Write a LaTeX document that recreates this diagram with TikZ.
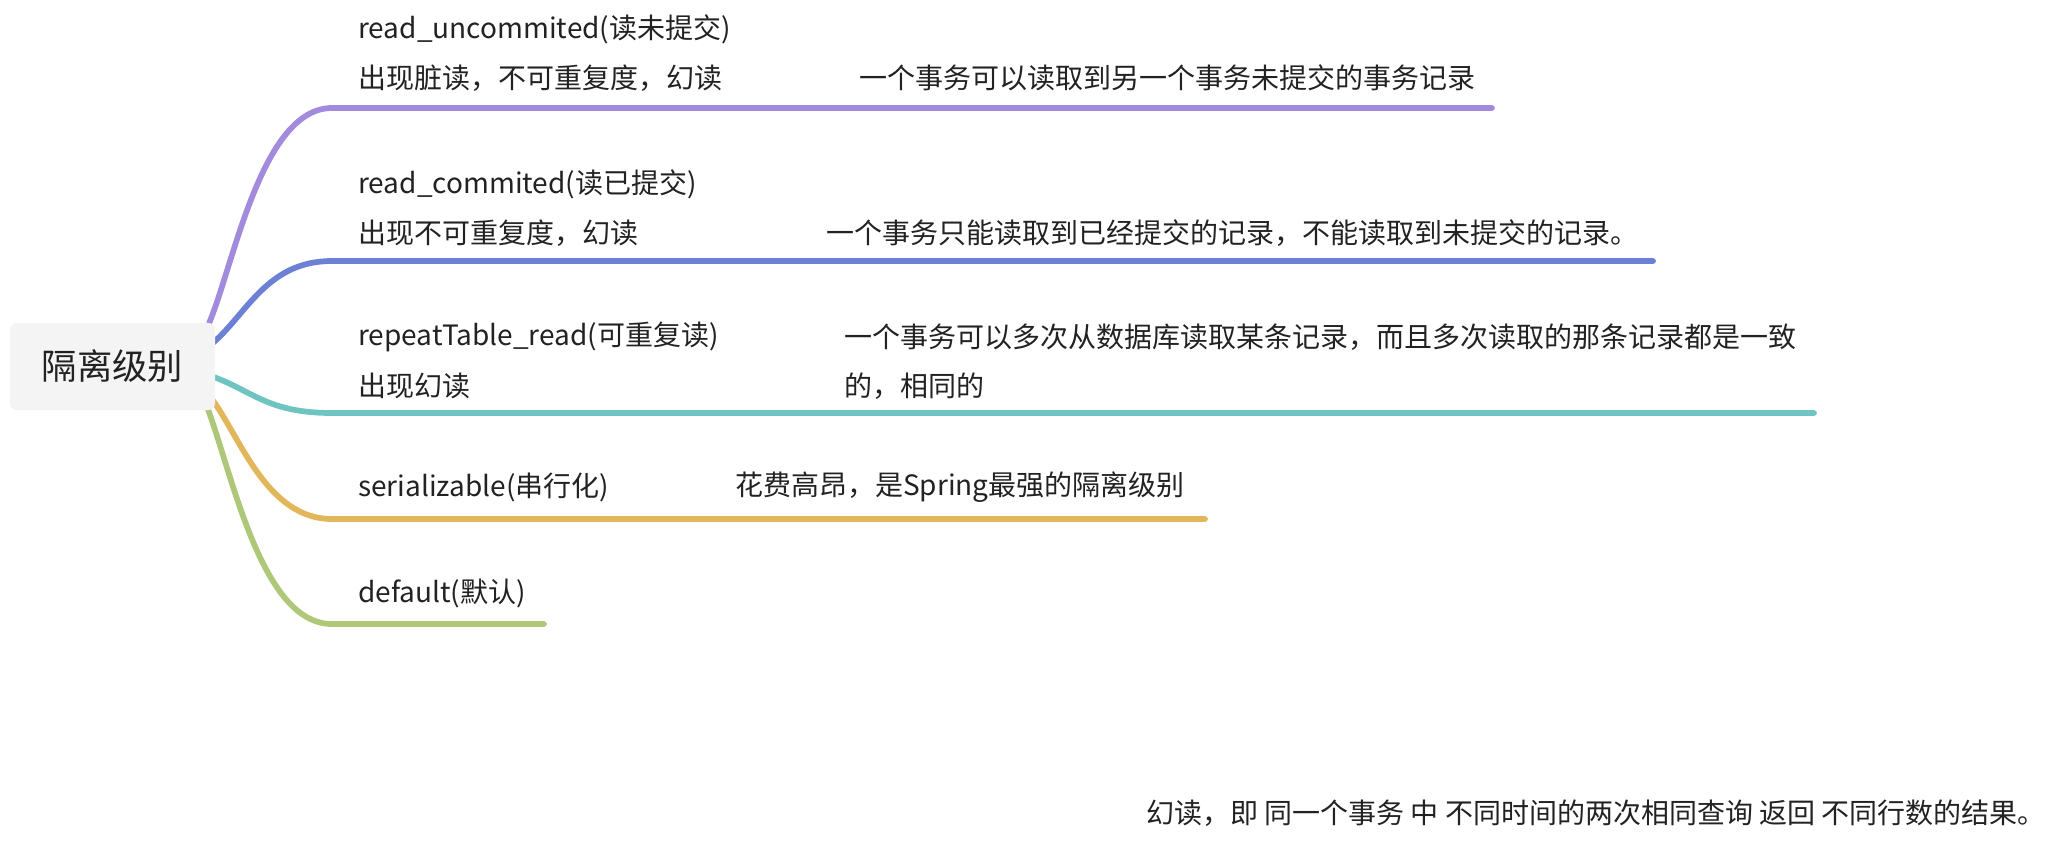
\documentclass[tikz,border=0pt]{standalone}
\usepackage{fontspec}
\setmainfont{Noto Sans CJK SC}
\usepackage{tikz}
\usetikzlibrary{calc,positioning,backgrounds}
\definecolor{txt}{RGB}{34,34,34}
\definecolor{rootbg}{RGB}{244,244,244}
\definecolor{lvpurple}{RGB}{162,138,221}
\definecolor{lvblue}{RGB}{108,128,214}
\definecolor{lvteal}{RGB}{110,196,192}
\definecolor{lvorange}{RGB}{226,182,90}
\definecolor{lvgreen}{RGB}{174,199,120}
\tikzset{
  rootbox/.style={rectangle, fill=rootbg, rounded corners=5pt,
                  minimum width=153.75pt, minimum height=65.25pt,
                  font=\fontsize{26.5}{30}\selectfont, text=txt},
  lbl/.style={anchor=west, inner sep=0pt, font=\fontsize{21}{25}\selectfont, text=txt},
  branch/.style={line width=4.3pt, line cap=round},
}

\begin{document}
\begin{tikzpicture}[x=0.75pt,y=-0.75pt]
    \useasboundingbox (0,0) rectangle (2065,851);
    \node[rootbox] (root) at (112.5,366.5) {隔离级别};

    % branch ends
    \coordinate (e1) at (1492,108);
    \coordinate (e2) at (1653,261);
    \coordinate (e3) at (1814,413);
    \coordinate (e4) at (1205,519);
    \coordinate (e5) at (544,624);

    \begin{scope}[on background layer]
    \draw[branch,lvpurple] ($(root.north east)+(-6,0)$)
      .. controls +(25,-60) and +(-70,0) .. (332,108) -- (e1);
    \draw[branch,lvblue] ($(root.east)+(-3,-23)$)
      .. controls +(35,-30) and +(-65,0) .. (332,261) -- (e2);
    \draw[branch,lvteal] ($(root.east)+(-3,10)$)
      .. controls +(40,14) and +(-65,0) .. (332,413) -- (e3);
    \draw[branch,lvorange] ($(root.east)+(-3,33)$)
      .. controls +(28,38) and +(-65,0) .. (332,519) -- (e4);
    \draw[branch,lvgreen] ($(root.south east)+(-8,-3)$)
      .. controls +(26,70) and +(-70,0) .. (332,624) -- (e5);
    \end{scope}

    \node[lbl] (ru) at (358,29) {read\_uncommited(读未提交)};
    \node[lbl] (rusub) at (358,78) {出现脏读，不可重复度，幻读};
    \node[lbl] (rudesc) at (859,78) {一个事务可以读取到另一个事务未提交的事务记录};

    \node[lbl] (rc) at (358,184) {read\_commited(读已提交)};
    \node[lbl] (rcsub) at (358,233) {出现不可重复度，幻读};
    \node[lbl] (rcdesc) at (826,233) {一个事务只能读取到已经提交的记录，不能读取到未提交的记录。};

    \node[lbl] (rr) at (358,337) {repeatTable\_read(可重复读)};
    \node[lbl] (rrsub) at (358,386) {出现幻读};
    \node[lbl] (rrdesc) at (844,337) {一个事务可以多次从数据库读取某条记录，而且多次读取的那条记录都是一致};
    \node[lbl] (rrdesc2) at (844,386) {的，相同的};

    \node[lbl] (ser) at (358,487) {serializable(串行化)};
    \node[lbl] (serdesc) at (735,487) {花费高昂，是Spring最强的隔离级别};

    \node[lbl] (def) at (358,593) {default(默认)};

    \node[lbl,anchor=east] (note) at (2046,813) {幻读，即 同一个事务 中 不同时间的两次相同查询 返回 不同行数的结果。};
\end{tikzpicture}
\end{document}
